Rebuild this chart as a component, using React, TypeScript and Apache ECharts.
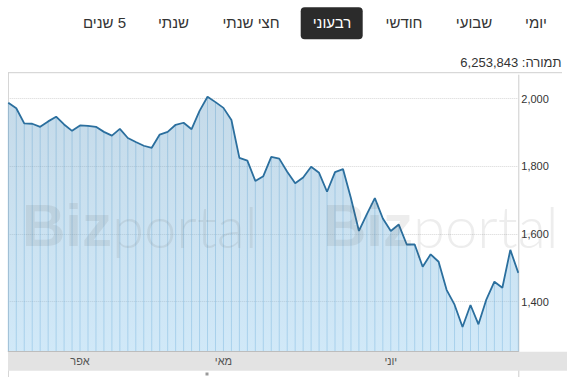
import React, { useEffect, useRef } from 'react';
import * as echarts from 'echarts';

// ---- data ----
const prices = [
  1988, 1972, 1927, 1926, 1917, 1933, 1947, 1924, 1905, 1921,
  1920, 1917, 1902, 1891, 1911, 1884, 1872, 1861, 1855, 1894,
  1902, 1923, 1929, 1910, 1964, 2006, 1990, 1973, 1937, 1825,
  1817, 1757, 1771, 1828, 1823, 1784, 1750, 1767, 1799, 1781,
  1725, 1783, 1792, 1706, 1609, 1659, 1706, 1646, 1609, 1628,
  1569, 1569, 1503, 1540, 1518, 1435, 1391, 1325, 1390, 1333,
  1407, 1459, 1441, 1553, 1485,
];
const monthNames = ['אפר', 'מאי', 'יוני'];
const monthIndex = [9, 27, 48];
const tabLabels = ['יומי', 'שבועי', 'חודשי', 'רבעוני', 'חצי שנתי', 'שנתי', '\u200F5 שנים'];
const selectedTab = 3;
const turnoverLabel = 'תמורה: 6,253,843';
const yMin = 1252;
const yMax = 2077;

// ---- layout ----
const FONT = '"Liberation Sans", Arial, sans-serif';
const tabCenters = [536, 474, 404, 332, 251, 173.5, 104.5];
const GRID_L = 8.3;
const GRID_R = 518.3;
const GRID_T = 72.7;
const GRID_B = 351.7;
const WM_FILL = 'rgba(90,90,90,0.11)';

const categories = prices.map((_, i) => 'p' + i);

export default function App() {
  const ref = useRef<HTMLDivElement>(null);
  useEffect(() => {
    const chart = echarts.init(ref.current!, null, { renderer: 'svg' });

    const tabElements: any[] = [];
    tabLabels.forEach((t, i) => {
      if (i === selectedTab) {
        tabElements.push({
          type: 'rect',
          shape: { x: 300.7, y: 7.3, width: 62, height: 32, r: 4 },
          style: { fill: '#2b2b2b' },
          z: 5,
        });
      }
      tabElements.push({
        type: 'text',
        x: tabCenters[i],
        y: 22,
        z: 6,
        style: {
          text: t,
          align: 'center',
          verticalAlign: 'middle',
          fill: i === selectedTab ? '#ffffff' : '#333333',
          font: `15px ${FONT}`,
        },
      });
    });

    chart.setOption({
      animation: false,
      grid: {
        left: GRID_L,
        right: 567 - GRID_R,
        top: GRID_T,
        bottom: 377 - GRID_B,
        containLabel: false,
      },
      xAxis: {
        type: 'category',
        data: categories,
        boundaryGap: false,
        axisLine: { show: true, lineStyle: { color: '#bdbdbd', width: 1 } },
        axisTick: { show: false },
        splitLine: { show: false },
        axisLabel: {
          interval: 0,
          margin: 4,
          fontSize: 11,
          fontFamily: FONT,
          color: '#555',
          formatter: (_v: string, idx: number) => {
            const k = monthIndex.indexOf(idx);
            return k >= 0 ? monthNames[k] : '';
          },
        },
        z: 3,
      },
      yAxis: {
        type: 'value',
        position: 'right',
        min: yMin,
        max: yMax,
        splitNumber: 5,
        axisLine: { show: false },
        axisTick: { show: false },
        axisLabel: {
          margin: 3,
          fontSize: 11,
          fontFamily: FONT,
          color: '#333',
          showMinLabel: false,
          showMaxLabel: false,
          formatter: (v: number) => (v % 200 === 0 ? v.toLocaleString('en-US') : ''),
        },
        splitLine: {
          show: true,
          showMinLine: false,
          showMaxLine: false,
          lineStyle: { color: '#d6d6d6', type: 'dotted', width: 1 },
        },
      },
      series: [
        {
          type: 'bar',
          data: prices,
          barWidth: 1,
          silent: true,
          itemStyle: { color: 'rgba(70,145,200,0.35)' },
          z: 1,
        },
        {
          type: 'line',
          data: prices,
          symbol: 'none',
          silent: true,
          lineStyle: { color: '#2b6f9e', width: 1.8 },
          areaStyle: {
            origin: 'start',
            color: new echarts.graphic.LinearGradient(0, 0, 0, 1, [
              { offset: 0, color: 'rgba(105,160,198,0.55)' },
              { offset: 1, color: 'rgba(135,197,237,0.55)' },
            ]),
          },
          z: 2,
        },
      ],
      graphic: [
        {
          type: 'rect',
          shape: { x: 8, y: GRID_B, width: 559, height: 19 },
          style: { fill: '#e3e3e3' },
          z: -1,
        },
        {
          type: 'line',
          shape: { x1: 8, y1: GRID_T, x2: 562, y2: GRID_T },
          style: { stroke: '#cfcfcf', lineWidth: 1 },
          z: -1,
        },
        {
          type: 'line',
          shape: { x1: 8.5, y1: GRID_T, x2: 8.5, y2: 377 },
          style: { stroke: '#d6d6d6', lineWidth: 1 },
          z: -2,
        },
        {
          type: 'line',
          shape: { x1: GRID_R + 0.5, y1: GRID_T + 2, x2: GRID_R + 0.5, y2: 377 },
          style: { stroke: '#cccccc', lineWidth: 1 },
          z: -2,
        },
        {
          type: 'rect',
          shape: { x: 205.5, y: 372.5, width: 3, height: 3 },
          style: { fill: '#9a9a9a' },
          z: 1,
        },
        {
          type: 'text',
          x: 22,
          y: 225,
          z: 10,
          style: { text: 'Biz', font: `bold 60px ${FONT}`, fill: WM_FILL, verticalAlign: 'middle' },
        },
        {
          type: 'text',
          x: 112,
          y: 225,
          z: 10,
          style: { text: 'portal', font: `300 58px Lato, Roboto, ${FONT}`, fill: WM_FILL, verticalAlign: 'middle' },
        },
        {
          type: 'text',
          x: 323,
          y: 225,
          z: 10,
          style: { text: 'Biz', font: `bold 60px ${FONT}`, fill: WM_FILL, verticalAlign: 'middle' },
        },
        {
          type: 'text',
          x: 413,
          y: 225,
          z: 10,
          style: { text: 'portal', font: `300 58px Lato, Roboto, ${FONT}`, fill: WM_FILL, verticalAlign: 'middle' },
        },
        {
          type: 'text',
          x: 561.5,
          y: 62,
          z: 6,
          style: { text: turnoverLabel, align: 'right', verticalAlign: 'middle', fill: '#333', font: `13px ${FONT}` },
        },
        ...tabElements,
      ],
    });
    return () => chart.dispose();
  }, []);
  return (
    <div
      ref={ref}
      style={{ position: 'absolute', left: 0, top: 0, width: 567, height: 377, background: '#fff' }}
    />
  );
}
